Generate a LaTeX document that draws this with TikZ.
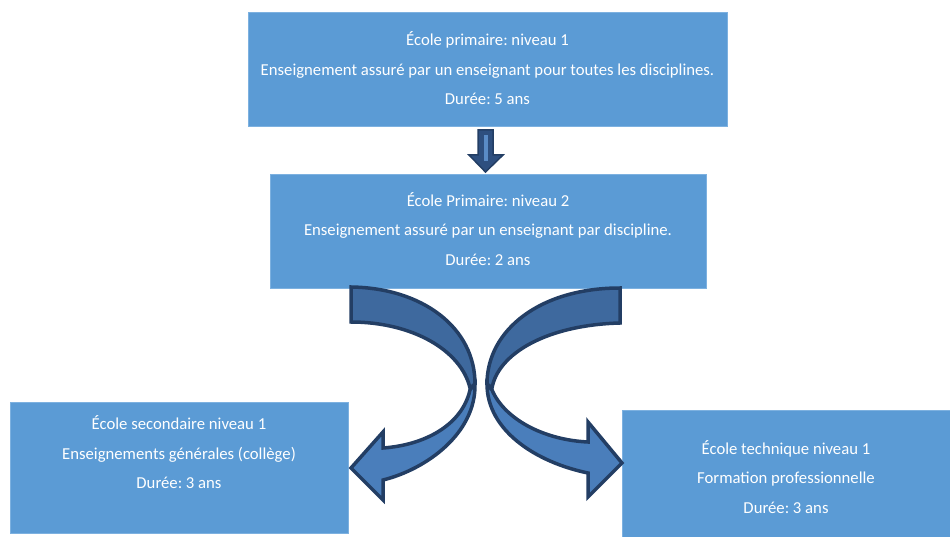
\documentclass[tikz,border=0pt]{standalone}
\usepackage{fontspec}
\setmainfont{Carlito}
\frenchspacing
\definecolor{boxblue}{HTML}{5B9BD5}
\definecolor{boxedge}{HTML}{7DB1E0}
\definecolor{darkband}{HTML}{3E699E}
\definecolor{lightband}{HTML}{4A7EBB}
\definecolor{arrline}{HTML}{233E64}
\definecolor{shaftfill}{HTML}{2E4F7F}
\definecolor{stripe}{HTML}{5A8BC6}
\tikzset{
  box/.style={rectangle, draw=boxedge, fill=boxblue, line width=0.8pt, inner sep=0pt},
  boxtext/.style={text=white, align=center, inner sep=0pt, font=\fontsize{16.7}{29.5}\selectfont},
  band/.style={draw=arrline, line width=3.5pt, line join=miter},
}
\begin{document}
\begin{tikzpicture}[x=1pt,y=-1pt]
\useasboundingbox (0,0) rectangle (950,537);
% boxes
\node[box, minimum width=479pt, minimum height=114pt] (b1) at (487.5,69) {};
\node[box, minimum width=436pt, minimum height=114pt] (b2) at (488,231) {};
\node[box, minimum width=338pt, minimum height=131pt] (b3) at (179,467.5) {};
\node[box, minimum width=330pt, minimum height=130pt] (b4) at (787,475) {};
% texts
\node[boxtext] (t1) at (487.5,69.5) {\vphantom{Ép}École primaire: niveau 1\\Enseignement assuré par un enseignant pour toutes les disciplines.\\Durée: 5 ans\vphantom{Ép}};
\node[boxtext] (t2) at (488,230) {\vphantom{Ép}École Primaire: niveau 2\\Enseignement assuré par un enseignant par discipline.\\Durée: 2 ans\vphantom{Ép}};
\node[boxtext] (t3) at (179,453.5) {\vphantom{Ép}École secondaire niveau 1\\Enseignements générales (collège)\\Durée: 3 ans\vphantom{Ép}};
\node[boxtext] (t4) at (786,478) {\vphantom{Ép}École technique niveau 1\\Formation professionnelle\\Durée: 3 ans\vphantom{Ép}};
% down arrow
\draw[draw=arrline, fill=shaftfill, line width=1.5pt, line join=miter]
  (478,130) -- (493,130) -- (493,155) -- (503,155) -- (485.5,172) -- (469,155) -- (478,155) -- cycle;
\fill[stripe] (483.5,135) rectangle (487.5,161);
% left curved arrow: back (dark) part
\draw[band, fill=darkband]
  (351,287) .. controls (423,288) and (475,328) .. (475,384)
  -- (470,388)
  .. controls (461,350) and (412,322) .. (351,322) -- cycle;
% left curved arrow: front (light) part
\draw[band, fill=lightband]
  (470,390) .. controls (462,425) and (425,445) .. (383,448)
  -- (383,432) -- (351,468) -- (383,500) -- (383,480)
  .. controls (427,469) and (476,433) .. (475,384) -- cycle;
% right curved arrow: back (dark) part
\draw[band, fill=darkband]
  (620,288) .. controls (540,288) and (487,330) .. (487,384)
  -- (492,388)
  .. controls (498,354) and (546,325) .. (620,323) -- cycle;
% right curved arrow: front (light) part
\draw[band, fill=lightband]
  (492,390) .. controls (505,420) and (545,440) .. (588,442)
  -- (588,422) -- (622,463) -- (588,497) -- (588,473)
  .. controls (535,462) and (487,430) .. (487,384) -- cycle;
\end{tikzpicture}
\end{document}
